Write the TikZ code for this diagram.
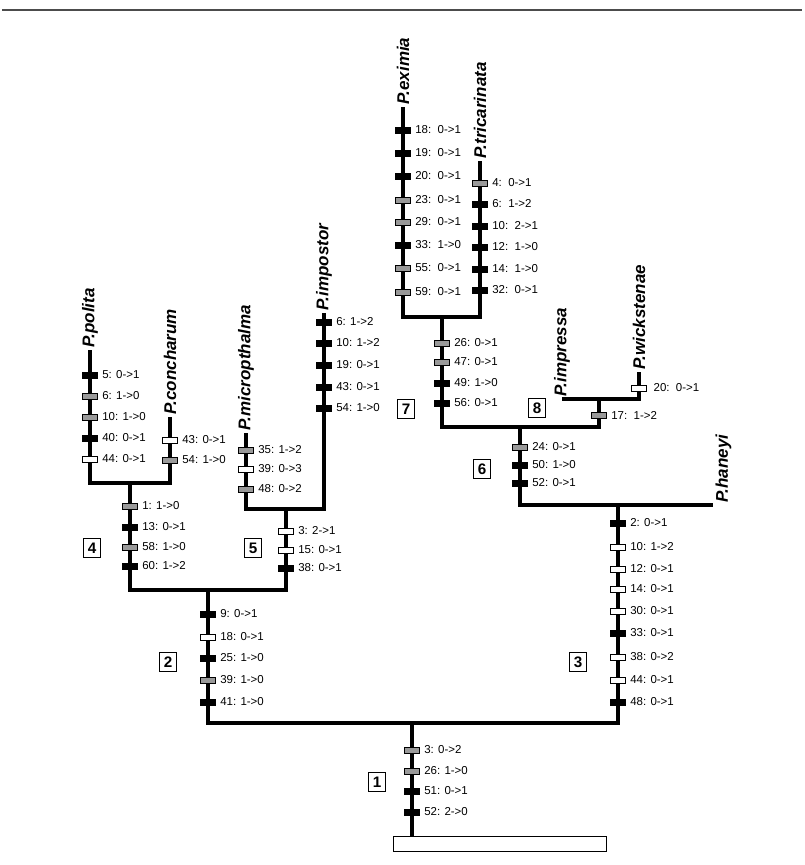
\documentclass[tikz,border=0pt]{standalone}
\usepackage{fontspec}
\setmainfont{Liberation Sans}
\usepackage{tikz}

\begin{document}
\begin{tikzpicture}[x=0.03cm, y=-0.03cm,
    tree/.style={line width=3pt, line join=miter},
    charbar/.style={draw=black, line width=0.6pt, minimum width=13pt, minimum height=5pt, inner sep=0pt},
    mblack/.style={charbar, fill=black},
    mgray/.style={charbar, fill=black!40},
    mwhite/.style={charbar, fill=white},
    mlab/.style={anchor=west, inner sep=0pt, xshift=3.5pt, font=\fontsize{9.8}{11}\selectfont},
    taxon/.style={rotate=90, inner sep=2pt, font=\fontsize{14.5}{16}\bfseries\itshape\selectfont},
    numbox/.style={draw, line width=0.9pt, minimum width=14.5pt, minimum height=15.5pt, inner sep=0pt, font=\fontsize{13}{14}\bfseries\selectfont}]
    \useasboundingbox (0,0) rectangle (804,865);

    % 1. Linie oben
    \draw[black!70, line width=1.2pt] (2,10) -- (802,10);

    % 2. Knoten (Verzweigungen) und Spitzen
    \node[draw, line width=0.9pt, minimum width=182pt, minimum height=13.5pt, inner sep=0pt] (rootbox) at (500,844) {};
    \coordinate (c1) at (412,723);
    \coordinate (c2) at (208,590);
    \coordinate (c3) at (618,505);
    \coordinate (c4) at (130,483);
    \coordinate (c5) at (286,509);
    \coordinate (c6) at (520,427);
    \coordinate (c7) at (442,317);
    \coordinate (c8) at (599,399);
    \coordinate (polita) at (90,350);
    \coordinate (concharum) at (170,417);
    \coordinate (micro) at (246,433);
    \coordinate (impostor) at (324,313);
    \coordinate (eximia) at (403,107);
    \coordinate (tricar) at (480,161);
    \coordinate (impressa) at (562,399);
    \coordinate (wick) at (639,372);
    \coordinate (haneyi) at (713,505);

    % 3. Aeste
    \draw[tree] (c1) -- (c1 |- rootbox.north);
    \draw[tree] (c2) |- (c1) -| (c3);
    \draw[tree] (c4) |- (c2) -| (c5);
    \draw[tree] (polita) |- (c4) -| (concharum);
    \draw[tree] (micro) |- (c5) -| (impostor);
    \draw[tree] (c6) |- (c3) -- (haneyi);
    \draw[tree] (c7) |- (c6) -| (c8);
    \draw[tree] (eximia) |- (c7) -| (tricar);
    \draw[tree] (impressa) -- (c8) -| (wick);

    % 4. Artnamen
    \node[taxon, anchor=west] (t-polita) at (polita) {P.polita};
    \node[taxon, anchor=west] (t-concharum) at (concharum) {P.concharum};
    \node[taxon, anchor=west] (t-micro) at (micro) {P.micropthalma};
    \node[taxon, anchor=west] (t-impostor) at (impostor) {P.impostor};
    \node[taxon, anchor=west] (t-eximia) at (eximia) {P.eximia};
    \node[taxon, anchor=west] (t-tricar) at (tricar) {P.tricarinata};
    \node[taxon, anchor=west] (t-impressa) at (impressa) {P.impressa};
    \node[taxon, anchor=west] (t-wick) at (wick) {P.wickstenae};
    \node[taxon, anchor=north west] (t-haneyi) at (haneyi) {P.haneyi};

    % 5. Merkmalsaenderungen auf den Aesten
    \foreach \y/\k/\lab [count=\i] in {750/mgray/{3: 0->2}, 771/mgray/{26: 1->0}, 791/mblack/{51: 0->1}, 812/mblack/{52: 2->0}}
        \node[\k] (b1-\i) at (c1 |- 0,\y) {} node[mlab] (b1-l\i) at (b1-\i.east) {\lab};
    \foreach \y/\k/\lab [count=\i] in {614/mblack/{9: 0->1}, 637/mwhite/{18: 0->1}, 658/mblack/{25: 1->0}, 680/mgray/{39: 1->0}, 702/mblack/{41: 1->0}}
        \node[\k] (b2-\i) at (c2 |- 0,\y) {} node[mlab] (b2-l\i) at (b2-\i.east) {\lab};
    \foreach \y/\k/\lab [count=\i] in {523/mblack/{2: 0->1}, 547/mwhite/{10: 1->2}, 569/mwhite/{12: 0->1}, 589/mwhite/{14: 0->1}, 611/mwhite/{30: 0->1}, 633/mblack/{33: 0->1}, 657/mwhite/{38: 0->2}, 680/mwhite/{44: 0->1}, 702/mblack/{48: 0->1}}
        \node[\k] (b3-\i) at (c3 |- 0,\y) {} node[mlab] (b3-l\i) at (b3-\i.east) {\lab};
    \foreach \y/\k/\lab [count=\i] in {506/mgray/{1: 1->0}, 527/mblack/{13: 0->1}, 547/mgray/{58: 1->0}, 566/mblack/{60: 1->2}}
        \node[\k] (b4-\i) at (c4 |- 0,\y) {} node[mlab] (b4-l\i) at (b4-\i.east) {\lab};
    \foreach \y/\k/\lab [count=\i] in {531/mwhite/{3: 2->1}, 550/mwhite/{15: 0->1}, 568/mblack/{38: 0->1}}
        \node[\k] (b5-\i) at (c5 |- 0,\y) {} node[mlab] (b5-l\i) at (b5-\i.east) {\lab};
    \foreach \y/\k/\lab [count=\i] in {447/mgray/{24: 0->1}, 465/mblack/{50: 1->0}, 483/mblack/{52: 0->1}}
        \node[\k] (b6-\i) at (c6 |- 0,\y) {} node[mlab] (b6-l\i) at (b6-\i.east) {\lab};
    \foreach \y/\k/\lab [count=\i] in {343/mgray/{26: 0->1}, 362/mgray/{47: 0->1}, 383/mblack/{49: 1->0}, 403/mblack/{56: 0->1}}
        \node[\k] (b7-\i) at (c7 |- 0,\y) {} node[mlab] (b7-l\i) at (b7-\i.east) {\lab};
    \node[mgray] (b8-1) at (c8 |- 0,415) {} node[mlab] (b8-l1) at (b8-1.east) {17:\ \ 1->2};

    \foreach \y/\k/\lab [count=\i] in {375/mblack/{5: 0->1}, 396/mgray/{6: 1->0}, 417/mgray/{10: 1->0}, 438/mblack/{40: 0->1}, 459/mwhite/{44: 0->1}}
        \node[\k] (polita-\i) at (polita |- 0,\y) {} node[mlab] (polita-l\i) at (polita-\i.east) {\lab};
    \foreach \y/\k/\lab [count=\i] in {440/mwhite/{43: 0->1}, 460/mgray/{54: 1->0}}
        \node[\k] (conch-\i) at (concharum |- 0,\y) {} node[mlab] (conch-l\i) at (conch-\i.east) {\lab};
    \foreach \y/\k/\lab [count=\i] in {450/mgray/{35: 1->2}, 469/mwhite/{39: 0->3}, 489/mgray/{48: 0->2}}
        \node[\k] (micro-\i) at (micro |- 0,\y) {} node[mlab] (micro-l\i) at (micro-\i.east) {\lab};
    \foreach \y/\k/\lab [count=\i] in {322/mblack/{6: 1->2}, 343/mblack/{10: 1->2}, 365/mblack/{19: 0->1}, 387/mblack/{43: 0->1}, 408/mblack/{54: 1->0}}
        \node[\k] (impos-\i) at (impostor |- 0,\y) {} node[mlab] (impos-l\i) at (impos-\i.east) {\lab};
    \foreach \y/\k/\lab [count=\i] in {130/mblack/{18:\ \ 0->1}, 153/mblack/{19:\ \ 0->1}, 176/mblack/{20:\ \ 0->1}, 200/mgray/{23:\ \ 0->1}, 222/mgray/{29:\ \ 0->1}, 245/mblack/{33:\ \ 1->0}, 268/mgray/{55:\ \ 0->1}, 292/mgray/{59:\ \ 0->1}}
        \node[\k] (exim-\i) at (eximia |- 0,\y) {} node[mlab] (exim-l\i) at (exim-\i.east) {\lab};
    \foreach \y/\k/\lab [count=\i] in {183/mgray/{4:\ \ 0->1}, 204/mblack/{6:\ \ 1->2}, 226/mblack/{10:\ \ 2->1}, 247/mblack/{12:\ \ 1->0}, 269/mblack/{14:\ \ 1->0}, 290/mblack/{32:\ \ 0->1}}
        \node[\k] (tric-\i) at (tricar |- 0,\y) {} node[mlab] (tric-l\i) at (tric-\i.east) {\lab};
    \node[mwhite] (wick-1) at (wick |- 0,388) {} node[mlab, xshift=2pt] (wick-l1) at (wick-1.east) {20:\ \ 0->1};

    % 6. Nummerierte Kaesten
    \node[numbox] (box1) at (377,782) {1};
    \node[numbox] (box2) at (168,662) {2};
    \node[numbox] (box3) at (578,662) {3};
    \node[numbox] (box4) at (92,548) {4};
    \node[numbox] (box5) at (253,548) {5};
    \node[numbox] (box6) at (482,469) {6};
    \node[numbox] (box7) at (406,409) {7};
    \node[numbox] (box8) at (537,408) {8};
\end{tikzpicture}
\end{document}
